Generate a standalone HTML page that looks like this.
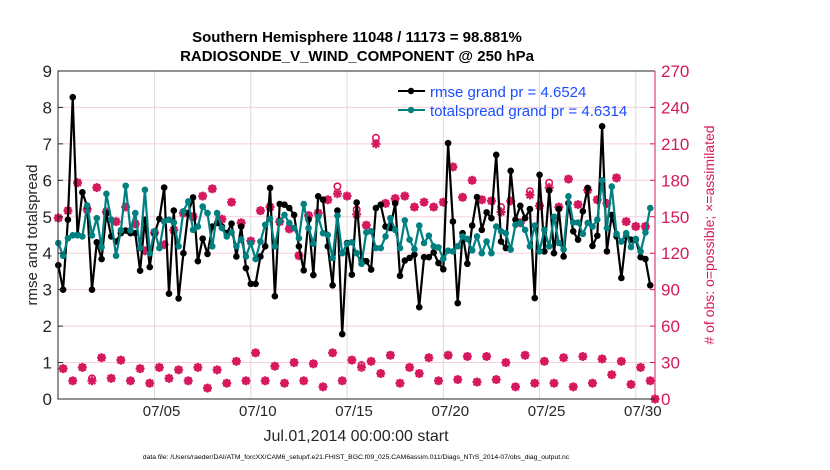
<!DOCTYPE html>
<html><head><meta charset="utf-8"><style>
body{margin:0;background:#fff;}
svg{display:block;font-family:"Liberation Sans",sans-serif;}
</style></head><body>
<svg id="chart" width="830" height="470" viewBox="0 0 830 470">
<g id="grid"></g>
<g id="obsg"></g>
<g id="rmseg"></g>
<g id="sprg"></g>
<g id="axes"></g>
<text x="357" y="42" text-anchor="middle" font-size="15" font-weight="bold">Southern Hemisphere 11048 / 11173 = 98.881%</text>
<text x="357" y="61" text-anchor="middle" font-size="15" font-weight="bold">RADIOSONDE_V_WIND_COMPONENT @ 250 hPa</text>
<text x="356" y="441" text-anchor="middle" font-size="16" fill="#262626">Jul.01,2014 00:00:00 start</text>
<text transform="translate(37,235) rotate(-90)" text-anchor="middle" font-size="15" fill="#262626">rmse and totalspread</text>
<text transform="translate(714,235) rotate(-90)" text-anchor="middle" font-size="14" fill="#d6195e"># of obs: o=possible; ×=assimilated</text>
<text x="356" y="459" text-anchor="middle" font-size="6.8" fill="#000">data file: /Users/raeder/DAI/ATM_forcXX/CAM6_setup/f.e21.FHIST_BGC.f09_025.CAM6assim.011/Diags_NTrS_2014-07/obs_diag_output.nc</text>
<g>
<line x1="398" y1="91" x2="425" y2="91" stroke="#000" stroke-width="2"/>
<circle cx="411" cy="91" r="3.2" fill="#000"/>
<text x="430" y="97" font-size="15" fill="#1a4dff">rmse grand pr = 4.6524</text>
<line x1="398" y1="110" x2="425" y2="110" stroke="#008080" stroke-width="2"/>
<circle cx="411" cy="110" r="3.2" fill="#008080"/>
<text x="430" y="116" font-size="15" fill="#1a4dff">totalspread grand pr = 4.6314</text>
</g>
</svg>
<script>
const rmse=[3.67,3.0,4.92,8.28,4.5,5.67,5.28,3.0,4.30,3.84,5.1,4.46,4.32,4.55,4.62,4.55,4.55,3.52,4.92,3.62,4.55,4.94,5.8,2.89,5.17,2.76,4.0,5.1,5.53,3.78,4.4,3.98,4.73,4.83,4.73,4.55,4.81,3.91,4.73,3.59,3.16,3.16,3.91,4.19,5.79,2.82,5.35,5.33,5.24,5.05,4.19,3.53,4.92,3.4,5.56,5.47,4.19,3.12,5.17,1.78,4.28,
3.41,5.39,3.82,3.78,3.55,5.24,5.33,4.73,4.69,5.37,3.38,3.80,3.87,3.96,2.52,3.89,3.89,4.02,3.73,3.56,7.02,4.87,2.63,4.55,3.71,4.76,5.54,4.64,5.12,4.96,6.70,4.32,4.14,6.26,4.92,5.30,4.96,5.21,2.77,6.15,4.05,5.72,4.0,5.21,3.91,5.37,4.60,4.37,5.15,5.79,4.2,4.48,7.48,4.05,5.05,4.46,3.32,4.46,4.37,4.37,3.89,3.84,3.12];
const spread=[4.28,3.93,4.41,4.49,4.49,4.46,5.31,4.49,4.96,4.17,5.63,4.92,3.93,4.63,5.85,4.63,5.1,4.14,5.74,4.0,4.6,4.14,4.87,4.92,4.84,4.19,5.15,5.42,4.64,4.73,5.28,5.1,4.19,5.1,4.69,4.46,4.57,4.19,4.37,3.91,4.28,3.84,4.32,4.78,4.94,4.19,4.87,5.05,4.83,4.69,4.41,5.35,4.69,4.26,5.0,4.55,4.5,3.87,5.03,4.0,4.26,
4.3,4.0,3.71,4.57,4.6,4.14,4.14,4.46,4.96,4.64,4.14,4.9,4.37,4.11,4.76,4.28,4.48,4.19,4.16,3.85,4.07,4.05,4.19,4.46,4.39,4.08,4.46,4.0,4.32,4.0,4.73,4.6,4.55,4.1,4.78,4.83,4.64,4.19,4.76,4.05,4.64,4.19,5.0,4.28,4.1,5.56,4.84,4.84,4.53,4.83,4.73,4.92,6.0,4.69,5.83,4.53,4.32,4.55,4.17,4.39,4.05,4.57,5.24];
const obsHigh=[149,155,178,156,174,154,146,158,144,122,137,127,139,153,150,167,173,148,162,145,130,155,158,146,140,118,151,153,164,169,167,152,143,210,161,165,167,158,162,158,162,191,166,180,164,163,154,163,145,168,159,174,158,181,160,172,164,161,182,146,142,142,0];
const obsLow=[25,15,26,15,34,17,32,15,25,13,26,17,24,15,26,9,24,13,31,15,38,15,27,13,30,15,29,10,38,15,32,26,31,21,36,13,26,21,34,15,36,16,35,14,35,16,30,10,36,13,31,13,34,10,35,13,33,20,31,12,26,15];
const possibleExtra=[[58,6],[66,5],[62,4],[92,4],[102,4],[98,3],[7,2],[63,2]];
const xTicks=[5,10,15,20,25,30];
const xTickLabels=["07/05","07/10","07/15","07/20","07/25","07/30"];
const yTicks=[0,1,2,3,4,5,6,7,8,9];
const y2Ticks=[0,30,60,90,120,150,180,210,240,270];

const NS="http://www.w3.org/2000/svg";
const X0=58.3,PXD=19.25,Y0=399,PXU=36.45;
const xs=d=>X0+d*PXD;
const ys=v=>Y0-v*PXU;
const ys2=n=>Y0-n/30*PXU;
function mk(tag,attrs,parent){const e=document.createElementNS(NS,tag);for(const k in attrs)e.setAttribute(k,attrs[k]);parent.appendChild(e);return e;}
const grid=document.getElementById('grid'),axes=document.getElementById('axes');
mk('rect',{x:58,y:71,width:597,height:328,fill:'#fff'},grid);
y2Ticks.forEach(t=>{const l=mk('line',{x1:58,x2:655,y1:ys2(t),y2:ys2(t),stroke:'#f6cfdc','stroke-width':1},grid);

});
xTicks.forEach((d,i)=>{const l=mk('line',{x1:xs(d),x2:xs(d),y1:71,y2:399,stroke:'#dcdcdc','stroke-width':1},grid);


const t=mk('text',{x:xs(d)+7,y:416,'text-anchor':'middle','font-size':15,fill:'#262626'},axes);t.textContent=xTickLabels[i];

});
yTicks.forEach(v=>{const t=mk('text',{x:52,y:ys(v)+6,'text-anchor':'end','font-size':17,fill:'#262626'},axes);t.textContent=v;


mk('line',{x1:58,x2:63,y1:ys(v),y2:ys(v),stroke:'#262626'},axes);});
y2Ticks.forEach(n=>{const t=mk('text',{x:661,y:ys2(n)+6,'font-size':17,fill:'#d6195e'},axes);t.textContent=n;


mk('line',{x1:650,x2:655,y1:ys2(n),y2:ys2(n),stroke:'#d6195e'},axes);});
mk('polyline',{points:'655,71 58,71 58,399 655,399',fill:'none',stroke:'#262626','stroke-width':1},axes);
mk('line',{x1:655,x2:655,y1:71,y2:399,stroke:'#d6195e','stroke-width':1},axes);

const og=document.getElementById('obsg');
function star(x,y){const g=mk('g',{stroke:'#d6195e','stroke-width':2.2},og);


mk('line',{x1:x-4.5,x2:x+4.5,y1:y,y2:y},g);mk('line',{x1:x,x2:x,y1:y-4.5,y2:y+4.5},g);
mk('line',{x1:x-3.3,x2:x+3.3,y1:y-3.3,y2:y+3.3},g);mk('line',{x1:x-3.3,x2:x+3.3,y1:y+3.3,y2:y-3.3},g);}
function circ(x,y){const c=mk('circle',{cx:x,cy:y,r:3.2,fill:'none',stroke:'#d6195e','stroke-width':1.6},og);

}
const extra={};possibleExtra.forEach(([i,e])=>extra[i]=e);
obsHigh.forEach((n,k)=>{const i=2*k,x=xs(i*0.25);star(x,ys2(n));circ(x,ys2(n+(extra[i]||0)));});
obsLow.forEach((n,k)=>{const i=2*k+1,x=xs(i*0.25);star(x,ys2(n));circ(x,ys2(n+(extra[i]||0)));});

function series(arr,color,gid,name){const g=document.getElementById(gid);
const pts=arr.map((v,i)=>xs(i*0.25).toFixed(1)+','+ys(v).toFixed(1)).join(' ');
const pl=mk('polyline',{points:pts,fill:'none',stroke:color,'stroke-width':2.2,'stroke-linejoin':'round'},g);


arr.forEach((v,i)=>{const c=mk('circle',{cx:xs(i*0.25),cy:ys(v),r:3.3,fill:color},g);

});}
series(rmse,'#000','rmseg','rmse');
series(spread,'#008080','sprg','totalspread');
</script>
</body></html>
